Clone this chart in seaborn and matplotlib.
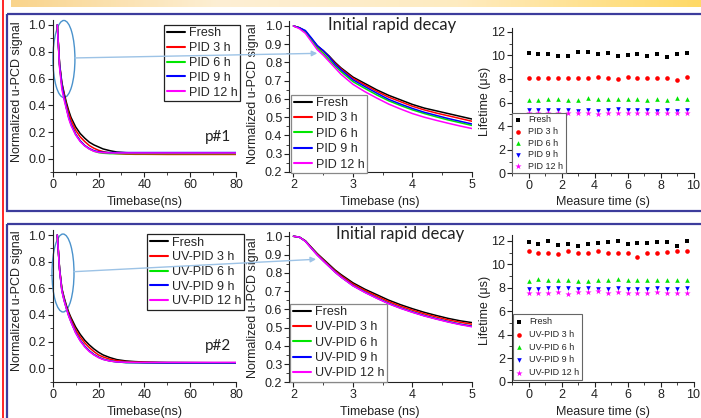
import numpy as np
import matplotlib
matplotlib.use("Agg")
import matplotlib.pyplot as plt
import seaborn as sns
from matplotlib.patches import Ellipse, Rectangle, ConnectionPatch
from matplotlib.ticker import MultipleLocator
from matplotlib.colors import LinearSegmentedColormap

sns.set_theme(style="ticks")
plt.rcParams["font.family"] = ["Liberation Sans", "DejaVu Sans"]

# ---------------- data ----------------
labels_top = ["Fresh", "PID 3 h", "PID 6 h", "PID 9 h", "PID 12 h"]
labels_bot = ["Fresh", "UV-PID 3 h", "UV-PID 6 h", "UV-PID 9 h", "UV-PID 12 h"]
colors = ["#000000", "#FF0000", "#00E600", "#0000FF", "#FF00FF"]
markers = ["s", "o", "^", "v", "*"]

# full decay (ns)
decay_x = [2, 3, 4, 5, 6, 7, 8, 10, 12, 14, 16, 18, 20, 22, 25, 28, 32, 36, 40, 50, 60, 70, 80]
top_fresh = [1.0, 0.71, 0.57, 0.49, 0.42, 0.36, 0.31, 0.24, 0.19, 0.155, 0.125, 0.105, 0.09, 0.075, 0.062, 0.052, 0.047, 0.045, 0.044, 0.044, 0.043, 0.043, 0.043]
top_pid3 = [1.0, 0.705, 0.56, 0.48, 0.40, 0.34, 0.29, 0.215, 0.165, 0.13, 0.10, 0.08, 0.065, 0.055, 0.045, 0.04, 0.036, 0.035, 0.035, 0.034, 0.034, 0.034, 0.034]
top_pid6 = [1.0, 0.69, 0.54, 0.455, 0.38, 0.31, 0.26, 0.185, 0.135, 0.10, 0.075, 0.058, 0.048, 0.043, 0.04, 0.04, 0.04, 0.04, 0.04, 0.04, 0.04, 0.04, 0.04]
top_pid9 = [1.0, 0.70, 0.55, 0.46, 0.38, 0.31, 0.26, 0.185, 0.135, 0.10, 0.078, 0.062, 0.054, 0.05, 0.048, 0.048, 0.048, 0.048, 0.048, 0.048, 0.048, 0.048, 0.048]
top_pid12 = [1.0, 0.68, 0.52, 0.44, 0.37, 0.30, 0.25, 0.18, 0.13, 0.097, 0.074, 0.058, 0.05, 0.047, 0.045, 0.045, 0.045, 0.045, 0.045, 0.045, 0.045, 0.045, 0.045]

bot_fresh = [1.0, 0.75, 0.60, 0.53, 0.47, 0.42, 0.38, 0.31, 0.255, 0.21, 0.175, 0.145, 0.12, 0.10, 0.08, 0.065, 0.055, 0.05, 0.047, 0.044, 0.043, 0.042, 0.042]
bot_pid3 = [1.0, 0.745, 0.595, 0.52, 0.46, 0.41, 0.365, 0.29, 0.235, 0.19, 0.155, 0.125, 0.10, 0.085, 0.068, 0.057, 0.05, 0.046, 0.044, 0.04, 0.04, 0.04, 0.04]
bot_pid6 = [1.0, 0.74, 0.585, 0.51, 0.45, 0.395, 0.35, 0.27, 0.21, 0.165, 0.13, 0.103, 0.083, 0.068, 0.055, 0.048, 0.043, 0.042, 0.041, 0.04, 0.04, 0.04, 0.04]
bot_pid9 = [1.0, 0.74, 0.585, 0.51, 0.45, 0.395, 0.35, 0.27, 0.21, 0.165, 0.13, 0.103, 0.083, 0.068, 0.055, 0.048, 0.043, 0.042, 0.041, 0.04, 0.04, 0.04, 0.04]
bot_pid12 = [1.0, 0.735, 0.58, 0.505, 0.445, 0.39, 0.345, 0.265, 0.205, 0.16, 0.125, 0.10, 0.08, 0.066, 0.054, 0.048, 0.045, 0.044, 0.044, 0.044, 0.044, 0.044, 0.044]

# initial rapid decay (ns)
zoom_x = [2.0, 2.1, 2.2, 2.3, 2.4, 2.5, 2.6, 2.7, 2.8, 3.0, 3.2, 3.4, 3.6, 3.8, 4.0, 4.2, 4.4, 4.6, 4.8, 5.0]
ztop_fresh = [1.0, 0.99, 0.97, 0.93, 0.89, 0.865, 0.835, 0.80, 0.77, 0.72, 0.685, 0.65, 0.62, 0.595, 0.57, 0.55, 0.535, 0.52, 0.505, 0.49]
ztop_pid3 = [1.0, 0.99, 0.97, 0.93, 0.888, 0.862, 0.83, 0.795, 0.765, 0.713, 0.677, 0.642, 0.61, 0.585, 0.56, 0.54, 0.523, 0.508, 0.493, 0.478]
ztop_pid6 = [1.0, 0.99, 0.97, 0.925, 0.88, 0.85, 0.815, 0.78, 0.75, 0.695, 0.658, 0.622, 0.59, 0.564, 0.54, 0.52, 0.502, 0.485, 0.47, 0.455]
ztop_pid9 = [1.0, 0.99, 0.975, 0.935, 0.893, 0.865, 0.83, 0.79, 0.76, 0.705, 0.668, 0.632, 0.598, 0.572, 0.548, 0.527, 0.51, 0.493, 0.478, 0.463]
ztop_pid12 = [1.0, 0.985, 0.96, 0.915, 0.87, 0.84, 0.805, 0.77, 0.735, 0.68, 0.64, 0.605, 0.572, 0.545, 0.52, 0.50, 0.483, 0.467, 0.452, 0.438]

zbot_fresh = [1.0, 0.995, 0.975, 0.94, 0.905, 0.875, 0.845, 0.815, 0.79, 0.745, 0.71, 0.68, 0.65, 0.625, 0.603, 0.583, 0.566, 0.55, 0.537, 0.527]
zbot_pid3 = [1.0, 0.995, 0.975, 0.938, 0.902, 0.871, 0.84, 0.81, 0.784, 0.738, 0.703, 0.672, 0.642, 0.617, 0.595, 0.575, 0.558, 0.542, 0.529, 0.518]
zbot_pid6 = [1.0, 0.995, 0.973, 0.935, 0.898, 0.866, 0.835, 0.804, 0.777, 0.73, 0.694, 0.662, 0.632, 0.607, 0.585, 0.565, 0.548, 0.532, 0.518, 0.507]
zbot_pid9 = [1.0, 0.995, 0.973, 0.935, 0.898, 0.866, 0.835, 0.804, 0.777, 0.73, 0.694, 0.662, 0.632, 0.607, 0.585, 0.565, 0.548, 0.532, 0.518, 0.507]
zbot_pid12 = [1.0, 0.995, 0.972, 0.934, 0.897, 0.865, 0.834, 0.803, 0.776, 0.728, 0.692, 0.66, 0.63, 0.605, 0.583, 0.563, 0.546, 0.53, 0.516, 0.504]

# lifetime (us) vs measure time (s)
meas_t = [0.0, 0.6, 1.2, 1.8, 2.4, 3.0, 3.6, 4.2, 4.8, 5.4, 6.0, 6.6, 7.2, 7.8, 8.4, 9.0, 9.6]
lt_top_fresh = [10.2, 10.1, 10.1, 9.95, 9.95, 10.25, 10.25, 10.15, 10.2, 9.95, 10.05, 10.15, 9.95, 10.1, 9.9, 10.1, 10.2]
lt_top_pid3 = [8.05, 8.05, 8.1, 8.05, 8.1, 8.1, 8.1, 8.15, 8.1, 8.0, 8.15, 8.1, 8.1, 8.1, 8.1, 7.95, 8.2]
lt_top_pid6 = [6.2, 6.25, 6.3, 6.3, 6.25, 6.2, 6.35, 6.3, 6.3, 6.3, 6.3, 6.3, 6.25, 6.3, 6.25, 6.35, 6.3]
lt_top_pid9 = [5.35, 5.4, 5.35, 5.4, 5.35, 5.3, 5.35, 5.3, 5.35, 5.45, 5.35, 5.35, 5.35, 5.3, 5.35, 5.3, 5.35]
lt_top_pid12 = [5.1, 5.15, 5.1, 5.1, 5.1, 5.1, 5.1, 5.05, 5.15, 5.1, 5.1, 5.1, 5.1, 5.1, 5.1, 5.1, 5.1]

lt_bot_fresh = [11.9, 11.75, 12.0, 11.65, 11.7, 11.55, 11.7, 11.8, 11.9, 12.0, 11.75, 11.8, 11.8, 11.9, 11.9, 11.6, 11.95]
lt_bot_pid3 = [11.15, 10.95, 10.95, 10.9, 11.1, 11.0, 11.0, 11.15, 11.0, 11.0, 11.0, 10.65, 11.0, 10.95, 11.05, 11.1, 11.1]
lt_bot_pid6 = [8.6, 8.75, 8.65, 8.65, 8.65, 8.6, 8.55, 8.7, 8.7, 8.75, 8.65, 8.65, 8.7, 8.65, 8.7, 8.7, 8.65]
lt_bot_pid9 = [7.9, 7.9, 7.95, 7.95, 7.95, 7.9, 8.0, 7.9, 7.9, 7.95, 7.9, 7.9, 7.9, 7.95, 7.9, 7.9, 7.95]
lt_bot_pid12 = [7.6, 7.6, 7.6, 7.65, 7.5, 7.65, 7.65, 7.7, 7.6, 7.65, 7.55, 7.55, 7.55, 7.65, 7.6, 7.6, 7.6]

# ---------------- figure ----------------
W, H = 701, 418
fig = plt.figure(figsize=(W / 100, H / 100), dpi=100)

bg = fig.add_axes([0, 0, 1, 1], zorder=-10)
bg.axis("off")
cmap = LinearSegmentedColormap.from_list("bar", [(0, "#F9D48C"), (0.3, "#FDEFD4"), (0.65, "#FEEBC0"), (1, "#FFD966")])
bg.imshow(np.linspace(0, 1, 400)[None, :], cmap=cmap, extent=[11, W, 6.7, 0], aspect="auto")
bg.plot([2.5, 2.5], [0, H], color="#FF0000", lw=1.2)
bg.add_patch(Rectangle((7, 13.8), 730, 197.3, fill=False, edgecolor="#3C3C9C", lw=1.6))
bg.add_patch(Rectangle((7, 223.8), 730, 230, fill=False, edgecolor="#3C3C9C", lw=1.6))
bg.set_xlim(0, W); bg.set_ylim(H, 0)


def px_axes(x0, y0, x1, y1):
    ax = fig.add_axes([x0 / W, 1 - y1 / H, (x1 - x0) / W, (y1 - y0) / H])
    ax._pxbox = (x0, y0, x1, y1)
    return ax


def style(ax, xmaj, xmin, ymaj, ymin):
    sns.despine(ax=ax)
    ax.set_facecolor("none")
    ax.xaxis.set_major_locator(MultipleLocator(xmaj))
    ax.xaxis.set_minor_locator(MultipleLocator(xmin))
    ax.yaxis.set_major_locator(MultipleLocator(ymaj))
    ax.yaxis.set_minor_locator(MultipleLocator(ymin))
    ax.tick_params(which="major", direction="out", length=3.5, width=0.8, labelsize=9, pad=1.5, color="#222222", labelcolor="#222222")
    ax.tick_params(which="minor", direction="out", length=2, width=0.6, color="#222222")
    for s in ["left", "bottom"]:
        ax.spines[s].set_linewidth(0.8)
        ax.spines[s].set_color("#222222")


def labels(ax, xl, xc, yc_x, yl, yl_x, yl_y):
    x0, y0, x1, y1 = ax._pxbox
    ax.set_xlabel(xl, fontsize=9, color="#222222")
    ax.set_ylabel(yl, fontsize=9, color="#222222")
    ax.xaxis.label.set_va("center")
    ax.yaxis.label.set_va("center")
    ax.xaxis.set_label_coords((xc - x0) / (x1 - x0), (y1 - yc_x) / (y1 - y0))
    ax.yaxis.set_label_coords((yl_x - x0) / (x1 - x0), (y1 - yl_y) / (y1 - y0))


def leg_lines(ax, labs, x, y, loc, fs=9, ls=0.22, ec="#333333"):
    hs, _ = ax.get_legend_handles_labels()
    lg = ax.legend(hs, labs, loc=loc, bbox_to_anchor=(x / W, 1 - y / H), bbox_transform=fig.transFigure,
                   fontsize=fs, frameon=True, fancybox=False, framealpha=1, edgecolor=ec,
                   borderpad=0.2, labelspacing=ls, handlelength=1.5, handletextpad=0.3, borderaxespad=0)
    lg.get_frame().set_linewidth(0.9)
    for l in lg.get_lines():
        l.set_linewidth(1.5)
    return lg


def leg_marks(ax, labs, x, y, fs=6.5, ls=0.3):
    hs, _ = ax.get_legend_handles_labels()
    lg = ax.legend(hs, labs, loc="lower left", bbox_to_anchor=(x / W, 1 - y / H), bbox_transform=fig.transFigure,
                   fontsize=fs, frameon=True, fancybox=False, framealpha=1, edgecolor="#666666",
                   borderpad=0.3, labelspacing=ls, handlelength=0.8, handletextpad=0.7, borderaxespad=0)
    lg.get_frame().set_linewidth(0.8)
    return lg


rows = [
    dict(labs=labels_top,
         full=[top_fresh, top_pid3, top_pid6, top_pid9, top_pid12],
         zoom=[ztop_fresh, ztop_pid3, ztop_pid6, ztop_pid9, ztop_pid12],
         life=[lt_top_fresh, lt_top_pid3, lt_top_pid6, lt_top_pid9, lt_top_pid12],
         p1=(52.7, 19.6, 236, 172.4), p2=(289.3, 21.4, 472, 172), p3=(512, 28.3, 693.5, 173.3), p3ylim=12.3),
    dict(labs=labels_bot,
         full=[bot_fresh, bot_pid3, bot_pid6, bot_pid9, bot_pid12],
         zoom=[zbot_fresh, zbot_pid3, zbot_pid6, zbot_pid9, zbot_pid12],
         life=[lt_bot_fresh, lt_bot_pid3, lt_bot_pid6, lt_bot_pid9, lt_bot_pid12],
         p1=(52.7, 229.7, 236, 381.6), p2=(289.3, 231.7, 472, 382.3), p3=(512, 235.0, 693.5, 381.7), p3ylim=12.5),
]
tags = ["p#1", "p#2"]

for r, row in enumerate(rows):
    # panel 1: full decay
    a1 = px_axes(*row["p1"])
    for ys, c, lab in zip(row["full"], colors, row["labs"]):
        sns.lineplot(x=decay_x, y=ys, color=c, lw=1.1, label=lab, ax=a1)
    a1.set_xlim(0, 80); a1.set_ylim(-0.1, 1.04)
    style(a1, 20, 10, 0.2, 0.1)
    # panel 2: initial decay
    a2 = px_axes(*row["p2"])
    for ys, c, lab in zip(row["zoom"], colors, row["labs"]):
        sns.lineplot(x=zoom_x, y=ys, color=c, lw=1.1, label=lab, ax=a2)
    a2.set_xlim(1.93, 5.0); a2.set_ylim(0.2, 1.025)
    style(a2, 1, 0.5, 0.1, 0.05)
    # panel 3: lifetime
    a3 = px_axes(*row["p3"])
    for ys, c, m, lab in zip(row["life"], colors, markers, row["labs"]):
        sns.scatterplot(x=meas_t, y=ys, color=c, marker=m, s=(22 if m == "*" else 11), linewidth=0, label=lab, ax=a3)
    a3.set_xlim(-1, 10); a3.set_ylim(0, row["p3ylim"])
    style(a3, 2, 1, 2, 1)

    if r == 0:
        labels(a1, "Timebase(ns)", 145, 201.7, "Normalized u-PCD signal", 17, 91.7)
        labels(a2, "Timebase (ns)", 380, 201.7, "Normalized u-PCD signal", 253, 94)
        labels(a3, "Measure time (s)", 603, 202.3, "Lifetime (μs)", 485, 101)
        leg_lines(a1, row["labs"], 164, 25, "upper left", ec="#222222")
        leg_lines(a2, row["labs"], 291, 173, "lower left", ec="#888888", ls=0.27)
        leg_marks(a3, row["labs"], 512, 173.3, ls=0.28)
        fig.text(391.7 / W, 1 - 25 / H, "Initial rapid decay", family="Lato", fontsize=12,
                 ha="center", va="center", color="#222222")
        a1.text(72.2, 0.164, tags[r], family="Lato", fontsize=11, ha="center", va="center", color="#222222")
        a1.add_patch(Ellipse((4.9, 0.746), 9.6, 0.575, fill=False, edgecolor="#4A92CC", lw=1.0, clip_on=False))
        con = ConnectionPatch(xyA=(9.74, 0.754), coordsA=a1.transData, xyB=(2.40, 0.85), coordsB=a2.transData,
                              arrowstyle="-|>", color="#9DC3E6", lw=1.0, mutation_scale=8)
        fig.add_artist(con)
    else:
        labels(a1, "Timebase(ns)", 145, 411.7, "Normalized u-PCD signal", 17, 301)
        labels(a2, "Timebase (ns)", 380, 411.7, "Normalized u-PCD signal", 253, 307.8)
        labels(a3, "Measure time (s)", 603, 411.7, "Lifetime (μs)", 485, 310)
        leg_lines(a1, row["labs"], 147, 234, "upper left", ec="#222222")
        leg_lines(a2, row["labs"], 290, 382, "lower left", ec="#888888", ls=0.27)
        leg_marks(a3, row["labs"], 513, 380, ls=0.42)
        fig.text(400 / W, 1 - 234 / H, "Initial rapid decay", family="Lato", fontsize=12,
                 ha="center", va="center", color="#222222")
        a1.text(72.2, 0.165, tags[r], family="Lato", fontsize=11, ha="center", va="center", color="#222222")
        a1.add_patch(Ellipse((4.5, 0.715), 9.6, 0.585, fill=False, edgecolor="#4A92CC", lw=1.0, clip_on=False))
        con = ConnectionPatch(xyA=(9.3, 0.725), coordsA=a1.transData, xyB=(2.38, 0.874), coordsB=a2.transData,
                              arrowstyle="-|>", color="#9DC3E6", lw=1.0, mutation_scale=8)
        fig.add_artist(con)

fig.savefig("out.png", dpi=100)
